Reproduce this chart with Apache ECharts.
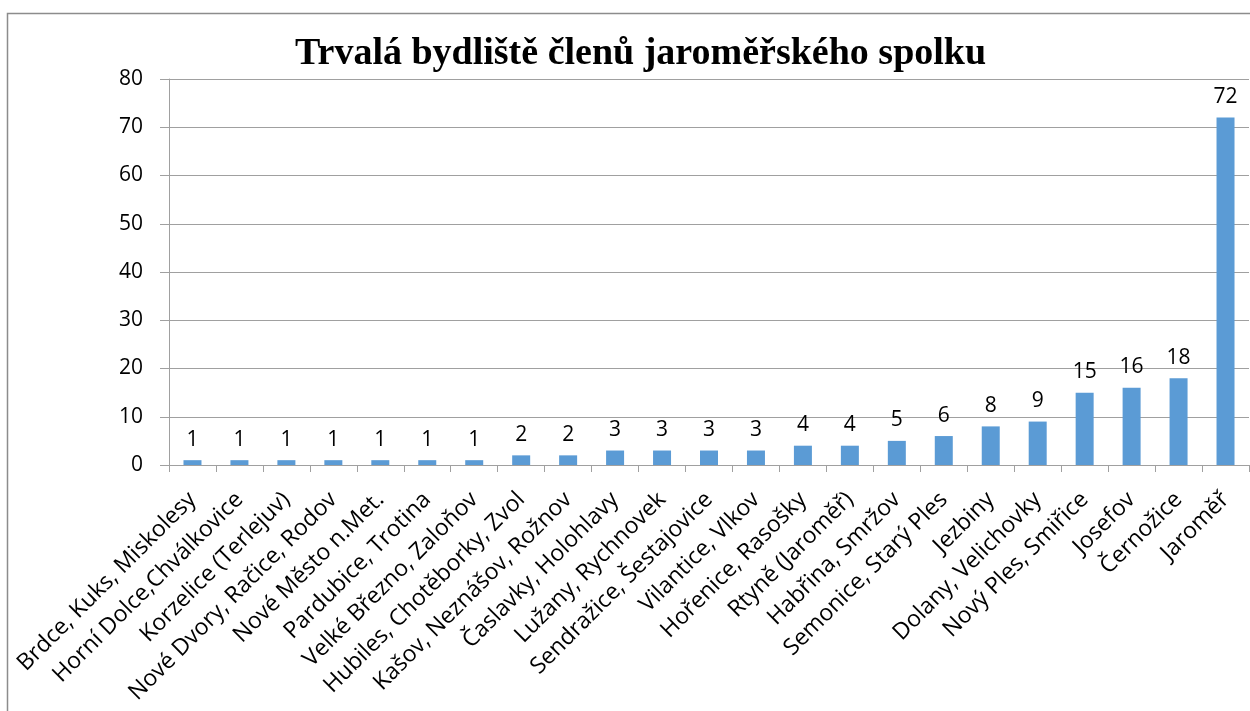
<!DOCTYPE html>
<html><head><meta charset="utf-8">
<script src="https://cdn.jsdelivr.net/npm/echarts@6/dist/echarts.min.js"></script>
<style>html,body{margin:0;padding:0;background:#fff}#c{width:1250px;height:711px}</style>
</head><body><div id="c"></div>
<script>
const titleText = 'Trvalá bydliště členů jaroměřského spolku';
const categories = ['Brdce, Kuks, Miskolesy','Horní Dolce,Chválkovice','Korzelice (Terlejuv)','Nové Dvory, Račice, Rodov','Nové Město n.Met.','Pardubice, Trotina','Velké Březno, Zaloňov','Hubiles, Chotěborky, Zvol','Kašov, Neznášov, Rožnov','Časlavky, Holohlavy','Lužany, Rychnovek','Sendražice, Šestajovice','Vilantice, Vlkov','Hořenice, Rasošky','Rtyně (Jaroměř)','Habřina, Smržov','Semonice, Starý Ples','Jezbiny','Dolany, Velichovky','Nový Ples, Smiřice','Josefov','Černožice','Jaroměř'];
const values = [1,1,1,1,1,1,1,2,2,3,3,3,3,4,4,5,6,8,9,15,16,18,72];
const yTicks = [0,10,20,30,40,50,60,70,80];

const chart = echarts.init(document.getElementById('c'), null, {renderer:'canvas'});
const font = '"Open Sans", Lato, sans-serif';
chart.setOption({
  animation:false,
  backgroundColor:'#fff',
  graphic:[{type:'rect',shape:{x:7.5,y:13.5,width:1300,height:800},style:{fill:'none',stroke:'#8c8c8c',lineWidth:1.5},z:-1}],
  title:{text:titleText,left:290,top:30,textStyle:{fontFamily:'"Liberation Serif","Times New Roman",serif',fontWeight:'bold',fontSize:38,color:'#000'}},
  grid:{left:169,right:1,top:79,bottom:246,containLabel:false},
  xAxis:{type:'category',data:categories,
    axisLine:{lineStyle:{color:'#a0a0a0',width:1}},
    axisTick:{show:true,length:7,lineStyle:{color:'#a0a0a0'}},
    axisLabel:{rotate:45,interval:0,margin:31,fontFamily:font,fontSize:23,color:'#000'}},
  yAxis:{type:'value',min:0,max:80,interval:10,
    axisLine:{show:true,lineStyle:{color:'#a0a0a0',width:1}},
    axisTick:{show:true,length:9,lineStyle:{color:'#a0a0a0'}},
    splitLine:{lineStyle:{color:'#a0a0a0',width:1}},
    axisLabel:{margin:26,fontFamily:font,fontSize:21,color:'#000',formatter:v=>yTicks.includes(v)?String(v):''}},
  series:[{type:'bar',data:values,barWidth:18,itemStyle:{color:'#5b9bd5'},
    label:{show:true,position:'top',distance:10,fontFamily:font,fontSize:21,color:'#000'}}]
});
</script></body></html>
